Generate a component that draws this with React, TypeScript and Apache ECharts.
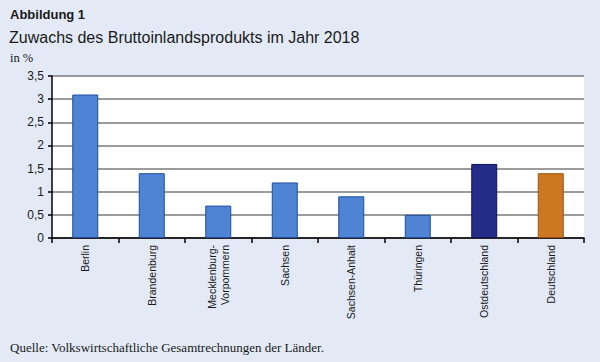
import React, { useEffect, useRef } from "react";
import * as echarts from "echarts";

const categories = [
  "Berlin",
  "Brandenburg",
  "Mecklenburg-\nVorpommern",
  "Sachsen",
  "Sachsen-Anhalt",
  "Thüringen",
  "Ostdeutschland",
  "Deutschland",
];
const values = [3.1, 1.4, 0.7, 1.2, 0.9, 0.5, 1.6, 1.4];
const barColors = ["#4f83d3", "#4f83d3", "#4f83d3", "#4f83d3", "#4f83d3", "#4f83d3", "#232c86", "#cc7722"];
const borderColors = ["#1d4e9e", "#1d4e9e", "#1d4e9e", "#1d4e9e", "#1d4e9e", "#1d4e9e", "#0c0f5c", "#9a520e"];

const sans = "'Liberation Sans', Arial, sans-serif";
const serif = "'Liberation Serif', 'Times New Roman', serif";

export default function App() {
  const ref = useRef<HTMLDivElement>(null);
  useEffect(() => {
    document.body.style.margin = "0";
    const chart = echarts.init(ref.current!, null, { renderer: "svg" });
    chart.setOption({
      animation: false,
      backgroundColor: "#e3eaf6",
      graphic: [
        { type: "text", left: 10, top: 8, style: { text: "Abbildung 1", font: `bold 13px ${sans}`, fill: "#1a1a1a" } },
        { type: "text", left: 9, top: 29, style: { text: "Zuwachs des Bruttoinlandsprodukts im Jahr 2018", font: `16px ${sans}`, fill: "#1a1a1a" } },
        { type: "text", left: 10, top: 51, style: { text: "in %", font: `12.5px ${serif}`, fill: "#1a1a1a" } },
        { type: "text", left: 10, top: 341, style: { text: "Quelle: Volkswirtschaftliche Gesamtrechnungen der Länder.", font: `13px ${serif}`, fill: "#1a1a1a" } },
      ],
      grid: {
        left: 52,
        right: 16,
        top: 76,
        bottom: 124,
        show: true,
        backgroundColor: "#ffffff",
        borderWidth: 0,
      },
      xAxis: {
        type: "category",
        data: categories,
        axisLine: { show: true, lineStyle: { color: "#000", width: 1.5 } },
        axisTick: { show: true, length: 5, lineStyle: { color: "#000", width: 1.5 } },
        axisLabel: {
          rotate: 90,
          interval: 0,
          margin: 7,
          fontFamily: sans,
          fontSize: 10.5,
          color: "#1a1a1a",
          lineHeight: 13,
        },
      },
      yAxis: {
        type: "value",
        min: 0,
        max: 3.5,
        interval: 0.5,
        axisLine: { show: true, lineStyle: { color: "#000", width: 1.5 } },
        axisTick: { show: true, length: 4, lineStyle: { color: "#000", width: 1.5 } },
        axisLabel: {
          margin: 8,
          fontFamily: sans,
          fontSize: 12,
          color: "#1a1a1a",
          formatter: (v: number) => String(v).replace(".", ","),
        },
        splitLine: { show: true, lineStyle: { color: "#7a7a7a", width: 1.5 } },
      },
      series: [
        {
          type: "bar",
          barWidth: 26,
          data: values.map((v, i) => ({
            value: v,
            itemStyle: { color: barColors[i], borderColor: borderColors[i], borderWidth: 1 },
          })),
        },
      ],
    });
    return () => chart.dispose();
  }, []);
  return <div ref={ref} style={{ width: 600, height: 362 }} />;
}
